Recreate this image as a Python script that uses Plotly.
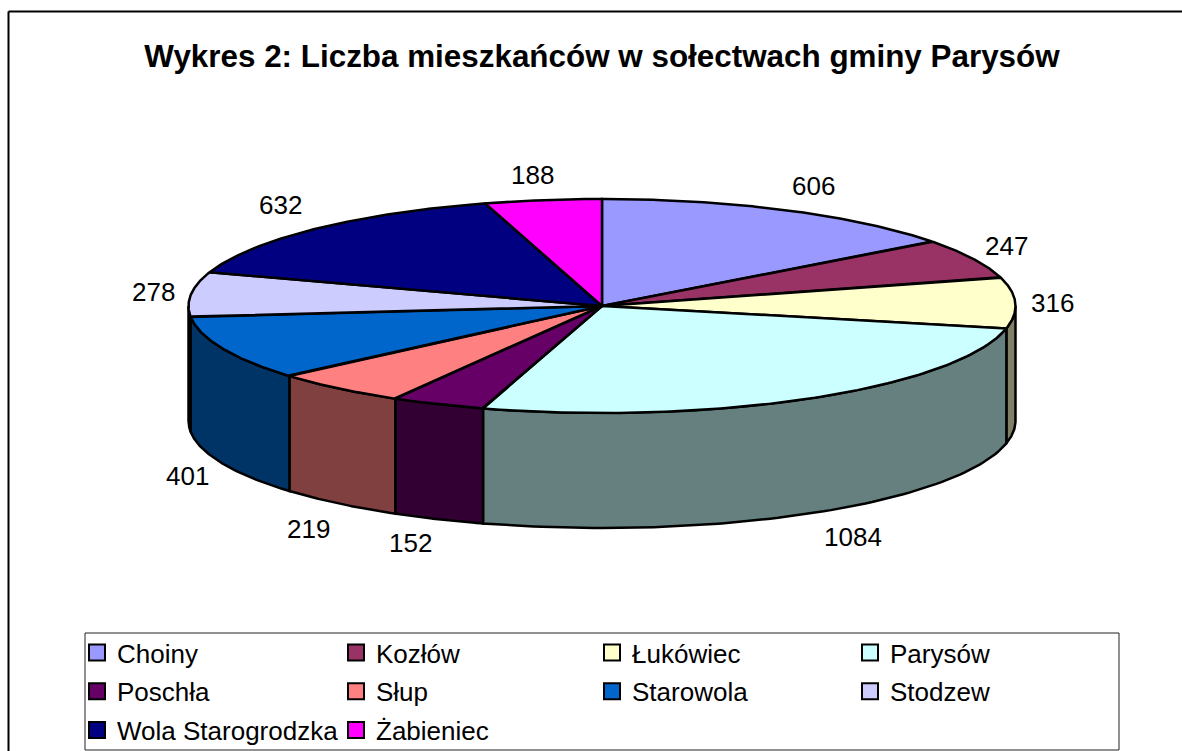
import numpy as np
import plotly.graph_objects as go

# ---------- data ----------
CATEGORIES = ["Choiny", "Kozłów", "Łukówiec", "Parysów", "Poschła",
              "Słup", "Starowola", "Stodzew", "Wola Starogrodzka", "Żabieniec"]
VALUES = [606, 247, 316, 1084, 152, 219, 401, 278, 632, 188]
TOP_COLORS = ["#9999FF", "#993366", "#FFFFCC", "#CCFFFF", "#660066",
              "#FF8080", "#0066CC", "#CCCCFF", "#000080", "#FF00FF"]
WALL_COLORS = ["#4C4C80", "#4C1933", "#808066", "#668080", "#330033",
               "#804040", "#003366", "#666680", "#000040", "#800080"]
TITLE = "Wykres 2: Liczba mieszkańców w sołectwach gminy Parysów"

# ---------- layout constants ----------
W, H = 1182, 751
CX, CY, RX, RY, DEPTH = 602, 306, 413.5, 107, 115
LABEL_XY = [(813, 186), (1006, 246), (1052, 303), (853, 537), (410, 543),
            (308, 529), (187, 476), (153, 292), (280, 205), (532, 175)]
LEGEND_COLS = [(77, [0, 4, 8]), (336, [1, 5, 9]), (592, [2, 6]), (850, [3, 7])]
LEGEND_TOP = 629
FONT = "Liberation Sans, Arial, sans-serif"
LABEL_SIZE = 26
LEGEND_SIZE = 26

fracs = np.array(VALUES, float) / sum(VALUES)
edges = np.concatenate([[0], np.cumsum(fracs)]) * 2 * np.pi


def px(t):
    return CX + RX * np.sin(t)


def py(t):
    return CY - RY * np.cos(t)


fig = go.Figure()
line = dict(color="black", width=2.5)

# outer walls (front half only)
for i in range(len(VALUES)):
    a = max(edges[i], np.pi / 2)
    b = min(edges[i + 1], 3 * np.pi / 2)
    if b <= a:
        continue
    t = np.linspace(a, b, 80)
    xs = np.concatenate([px(t), px(t[::-1]), [px(t[0])]])
    ys = np.concatenate([py(t), py(t[::-1]) + DEPTH, [py(t[0])]])
    fig.add_trace(go.Scatter(x=xs, y=ys, mode="lines", fill="toself",
                             fillcolor=WALL_COLORS[i], line=line,
                             hoverinfo="skip", showlegend=False))

# top faces
for i in range(len(VALUES)):
    t = np.linspace(edges[i], edges[i + 1], 120)
    xs = np.concatenate([[CX], px(t), [CX]])
    ys = np.concatenate([[CY], py(t), [CY]])
    fig.add_trace(go.Scatter(x=xs, y=ys, mode="lines", fill="toself",
                             fillcolor=TOP_COLORS[i], line=line,
                             name=CATEGORIES[i], hoverinfo="name",
                             showlegend=False))

# legend entries, one real legend per column
layout_legends = {}
for c, (lx, members) in enumerate(LEGEND_COLS):
    key = "legend" if c == 0 else f"legend{c + 1}"
    for i in members:
        fig.add_trace(go.Scatter(x=[None], y=[None], mode="markers",
                                 name=CATEGORIES[i], legend=key, legendgroup=CATEGORIES[i],
                                 marker=dict(symbol="square", size=16.5, color=TOP_COLORS[i],
                                             line=dict(color="black", width=2))))
    layout_legends[key] = dict(x=lx / W, y=1 - LEGEND_TOP / H, xanchor="left", yanchor="top",
                               bgcolor="rgba(0,0,0,0)", borderwidth=0,
                               font=dict(family=FONT, size=LEGEND_SIZE, color="black"),
                               traceorder="grouped", tracegroupgap=2,
                               itemclick=False, itemdoubleclick=False)

annotations = [dict(x=x, y=y, xref="x", yref="y", text=str(v), showarrow=False,
                    font=dict(family=FONT, size=LABEL_SIZE, color="black"))
               for (x, y), v in zip(LABEL_XY, VALUES)]

frame = dict(color="black", width=2)
shapes = [
    dict(type="line", xref="x", yref="y", x0=8.5, y0=11.5, x1=W, y1=11.5, line=frame, layer="below"),
    dict(type="line", xref="x", yref="y", x0=8.5, y0=11.5, x1=8.5, y1=H, line=frame, layer="below"),
    dict(type="rect", xref="x", yref="y", x0=85, y0=633, x1=1119, y1=750,
         line=dict(color="#222222", width=1), fillcolor="rgba(0,0,0,0)", layer="below"),
]

fig.update_layout(
    width=W, height=H, margin=dict(l=0, r=0, t=0, b=0, autoexpand=False),
    paper_bgcolor="white", plot_bgcolor="white",
    title=dict(text=f"<b>{TITLE}</b>", x=602 / W, xanchor="center", y=1 - 56 / H, yanchor="middle",
               font=dict(family=FONT, size=31.4, color="black")),
    xaxis=dict(range=[0, W], visible=False, fixedrange=True),
    yaxis=dict(range=[H, 0], visible=False, fixedrange=True),
    annotations=annotations, shapes=shapes, showlegend=True,
    **layout_legends,
)

fig.write_html("out.html", config={"displayModeBar": False},
               post_script="document.body.style.margin='0';document.body.style.overflow='hidden';")
